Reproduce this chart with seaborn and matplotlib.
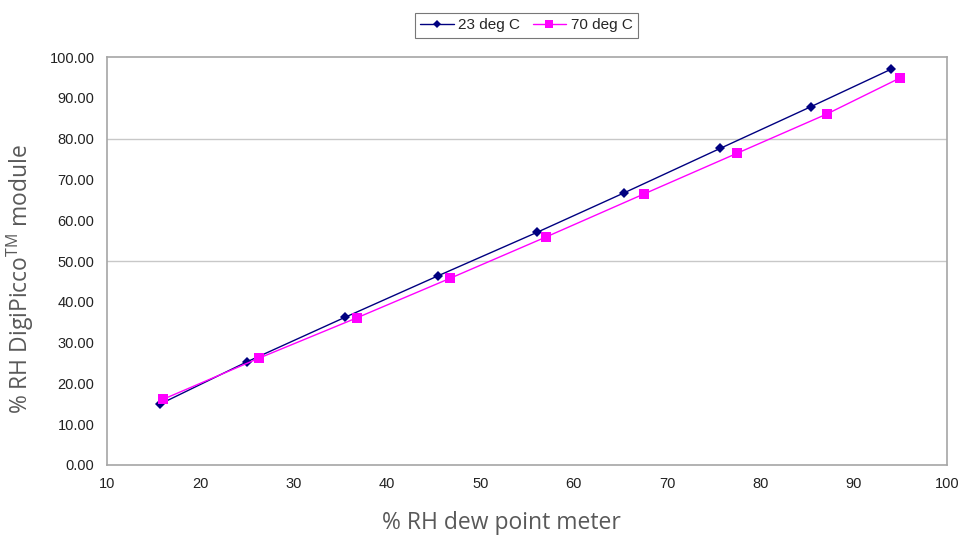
import matplotlib
matplotlib.use("Agg")
import matplotlib.pyplot as plt
import seaborn as sns
import pandas as pd

# readings for the two temperatures
dew_23 = [15.7, 25.0, 35.5, 45.5, 56.05, 65.4, 75.7, 85.4, 94.0]
rh_23 = [14.95, 25.3, 36.2, 46.4, 57.0, 66.7, 77.6, 87.8, 97.0]
dew_70 = [16.0, 26.3, 36.8, 46.8, 57.05, 67.5, 77.5, 87.1, 95.0]
rh_70 = [16.1, 26.2, 36.1, 45.8, 55.9, 66.4, 76.4, 86.0, 94.9]
series = ["23 deg C", "70 deg C"]
grid_vals = [50, 80]

df = pd.concat([
    pd.DataFrame({"dew": dew_23, "rh": rh_23, "series": series[0]}),
    pd.DataFrame({"dew": dew_70, "rh": rh_70, "series": series[1]}),
])

sns.set_style("white")
plt.rcParams['font.family'] = ['Liberation Sans', 'DejaVu Sans']

fig = plt.figure(figsize=(9.65, 5.39), dpi=100)
ax = fig.add_axes([0.1109, 0.1373, 0.8704, 0.7569])

for g in grid_vals:
    ax.axhline(g, color="#c8c8c8", linewidth=1, zorder=0)

sns.lineplot(data=df, x="dew", y="rh", hue="series", style="series",
             palette={"23 deg C": "#000080", "70 deg C": "#ff00ff"},
             markers={"23 deg C": "D", "70 deg C": "s"},
             dashes=False, sort=False, linewidth=1.0, ax=ax,
             markeredgewidth=0, legend=True)
for ln, ms in zip(ax.lines[2:4], [5, 6.5]):
    ln.set_markersize(ms)

ax.set_xlim(10, 100)
ax.set_ylim(0, 100)
ax.set_xticks(range(10, 101, 10))
ax.set_yticks(range(0, 101, 10))
ax.set_yticklabels([f"{v:.2f}" for v in range(0, 101, 10)])
ax.set_yticks(grid_vals, minor=True)
ax.grid(False)
ax.tick_params(axis="both", which="major", length=0, labelsize=10.5,
               colors="#222222", pad=9)
ax.tick_params(axis="y", which="minor", left=True, length=5,
               color="#909090", width=1)
for s in ax.spines.values():
    s.set_color("#a6a6a6")
    s.set_linewidth(1.2)

ax.set_xlabel("% RH dew point meter", family=["Open Sans", "DejaVu Sans"],
              fontsize=16.5, color="#595959", va="center")
ax.xaxis.set_label_coords(0.47, -0.142)
ax.set_ylabel("% RH DigiPicco$^{\\mathregular{TM}}$ module",
              family=["Open Sans", "DejaVu Sans"],
              fontsize=16.5, color="#595959", va="center")
ax.yaxis.set_label_coords(-0.103, 0.455)

handles, labels = ax.get_legend_handles_labels()
ax.legend_.remove()
for h, ms in zip(handles, [4, 5.5]):
    h.set_markersize(ms)
leg = fig.legend(handles, labels, loc="upper center", ncol=2,
                 bbox_to_anchor=(0.5456, 0.99), fontsize=11, frameon=True,
                 fancybox=False, handlelength=2.2, handletextpad=0.3,
                 columnspacing=0.8, borderpad=0.35)
leg.get_frame().set_edgecolor("#555555")
leg.get_frame().set_linewidth(0.8)

fig.savefig("out.png", dpi=100)
